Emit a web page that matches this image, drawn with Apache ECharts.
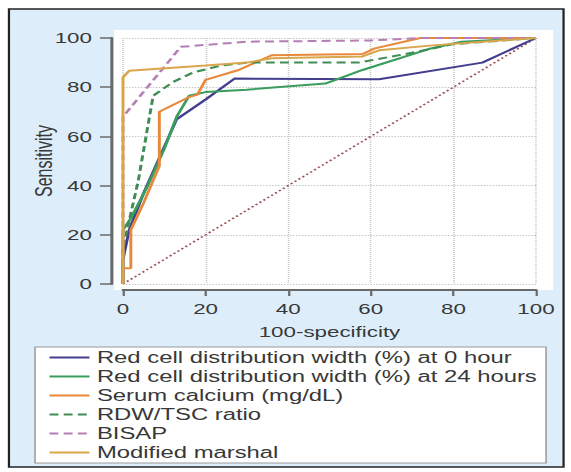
<!DOCTYPE html>
<html>
<head>
<meta charset="utf-8">
<script src="https://cdn.jsdelivr.net/npm/echarts@6/dist/echarts.min.js"></script>
<style>
  html, body { margin: 0; padding: 0; background: #fff; overflow: hidden; }
  /* The source figure is stretched sideways, so the chart is drawn narrow and widened. */
  #chart { width: 383px; height: 472px; transform: scaleX(1.4909); transform-origin: 0 0; }
</style>
</head>
<body>
<div id="chart"></div>
<script>
// ROC curves, points are [100-specificity, sensitivity].
const seriesNames = [
  "Red cell distribution width (%) at 0 hour",
  "Red cell distribution width (%) at 24 hours",
  "Serum calcium (mg/dL)",
  "RDW/TSC ratio",
  "BISAP",
  "Modified marshal"
];

const rdw0 = [[0, 0], [0, 10], [1.5, 22], [5, 37], [9, 52], [13, 67], [20, 75], [27, 83.5],
  [62, 83.2], [87, 90], [100, 100]];
const rdw24 = [[0, 0], [0, 22], [2, 27], [6, 40], [10, 55], [13, 68], [16, 76.5], [20, 78],
  [30, 79], [49, 81.5], [58, 87], [74, 95.5], [82, 98.5], [100, 100]];
const calcium = [[0, 0], [0, 6.4], [1.9, 6.4], [1.9, 22], [5, 33], [8.8, 48], [8.8, 70],
  [16, 76], [18, 77], [20, 83], [28, 87], [36, 93], [58, 93.5], [61, 95.8], [72, 100], [100, 100]];
const rdwTsc = [[0, 0], [0, 15], [1, 22], [3.7, 42], [7.3, 76.5], [12, 82], [17, 86],
  [23.5, 88.7], [30, 90], [57, 90], [70, 94], [80, 97.5], [100, 100]];
const bisap = [[0, 0], [0, 68], [14, 96.4], [30, 98.5], [60, 99], [72, 100], [100, 100]];
const marshal = [[0, 0], [0, 84], [1.5, 86.7], [20, 88.8], [30, 90], [36, 91.8], [58, 92.5],
  [62, 95], [75, 97], [100, 100]];
const reference = [[0, 0], [100, 100]];

const xTicks = [0, 20, 40, 60, 80, 100];
const yTicks = [0, 20, 40, 60, 80, 100];

const colors = ["#433e8e", "#3a9d5d", "#e8893c", "#3f8c55", "#b57fb4", "#d9a64c"];
const font = "Liberation Sans";

let chart = echarts.init(document.getElementById("chart"), null, { renderer: "svg" });

let line = (name, data, color, dashed) => ({
  name: name,
  type: "line",
  data: data,
  symbol: "none",
  silent: true,
  lineStyle: { color: color, width: 2, type: dashed ? [6, 3.5] : "solid" },
  itemStyle: { color: color }
});

chart.setOption({
  animation: false,
  backgroundColor: "#fff",
  graphic: [
    // outer frame and light blue panel
    { type: "rect", z: -100, shape: { x: 6, y: 9, width: 372, height: 458 },
      style: { fill: "#ddeefa", stroke: "#222", lineWidth: 1.5 } },
    // white plot region
    { type: "rect", z: -99, shape: { x: 76.5, y: 30, width: 294.5, height: 260 },
      style: { fill: "#fff" } }
  ],
  grid: { left: 82.5, top: 38, width: 277, height: 246 },
  xAxis: {
    type: "value", min: 0, max: 100, interval: 20, offset: 6,
    name: "100-specificity", nameLocation: "middle", nameGap: 34,
    nameTextStyle: { fontFamily: font, fontSize: 15, color: "#383838" },
    axisLine: { show: true, onZero: false, lineStyle: { color: "#6a6a6a", width: 2 } },
    axisTick: { show: true, length: 6, lineStyle: { color: "#6a6a6a", width: 1.5 } },
    axisLabel: { fontFamily: font, fontSize: 15, color: "#383838", margin: 11,
      customValues: xTicks },
    splitLine: { show: true, lineStyle: { color: "#c4c4c4", type: "dotted", width: 1 } }
  },
  yAxis: {
    type: "value", min: 0, max: 100, interval: 20, offset: 7.4,
    name: "Sensitivity", nameLocation: "middle", nameGap: 38, nameRotate: 90,
    nameMoveOverlap: false,
    nameTextStyle: { fontFamily: font, fontSize: 16, color: "#383838" },
    axisLine: { show: true, onZero: false, lineStyle: { color: "#6a6a6a", width: 2 } },
    axisTick: { show: true, length: 8, lineStyle: { color: "#6a6a6a", width: 1.5 } },
    axisLabel: { fontFamily: font, fontSize: 15, color: "#383838", margin: 13.4,
      customValues: yTicks },
    splitLine: { show: true, lineStyle: { color: "#c4c4c4", type: "dotted", width: 1 } }
  },
  legend: {
    data: seriesNames,
    orient: "vertical",
    left: 23.5, top: 347,
    backgroundColor: "#fff",
    borderColor: "#999", borderWidth: 1,
    padding: [2, 6, 2, 8.7],
    itemGap: 2, itemWidth: 26.8, itemHeight: 17,
    selectedMode: false,
    itemStyle: { opacity: 0 },
    textStyle: { fontFamily: font, fontSize: 16, color: "#383838", lineHeight: 17 }
  },
  series: [
    line(seriesNames[0], rdw0, colors[0], false),
    line(seriesNames[1], rdw24, colors[1], false),
    line(seriesNames[2], calcium, colors[2], false),
    line(seriesNames[3], rdwTsc, colors[3], true),
    line(seriesNames[4], bisap, colors[4], true),
    line(seriesNames[5], marshal, colors[5], false),
    {
      type: "line", data: reference, symbol: "none", silent: true, z: 1,
      lineStyle: { color: "#9a4f55", width: 1.5, type: [1.5, 2] }
    }
  ]
});
</script>
</body>
</html>
